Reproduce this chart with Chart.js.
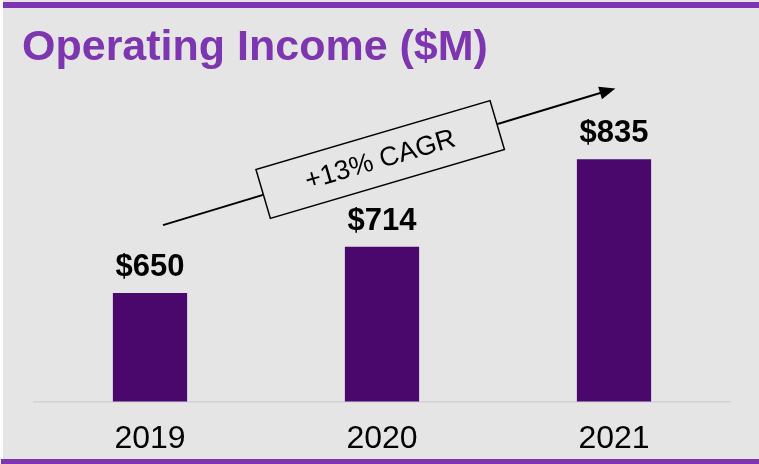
<!DOCTYPE html>
<html>
<head>
<meta charset="utf-8">
<script src="https://cdn.jsdelivr.net/npm/chart.js@4.4.1/dist/chart.umd.min.js"></script>
<style>
  html, body { margin: 0; padding: 0; background: #ffffff; }
  #wrap { width: 759px; height: 464px; position: relative; }
</style>
</head>
<body>
<div id="wrap"><canvas id="chart" width="759" height="464"></canvas></div>
<script>
// Chart data
const years = ['2019', '2020', '2021'];
const income = [650, 714, 835];
const valueLabels = ['$650', '$714', '$835'];
const titleText = 'Operating Income ($M)';
const cagrText = '+13% CAGR';

const purple = '#7d35b0';
const barColor = '#4a086c';
const bgGray = '#e5e5e5';
const fontFamily = '"Liberation Sans", Arial, sans-serif';

// frame: grey panel, purple rules top and bottom, title
const framePlugin = {
    id: 'frame',
    beforeDraw(chart) {
        const ctx = chart.ctx;
        ctx.save();
        ctx.fillStyle = bgGray;
        ctx.fillRect(3, 0, chart.width - 3, chart.height);
        ctx.fillStyle = purple;
        ctx.fillRect(3, 2, chart.width - 3, 6);
        ctx.fillRect(1, 459, chart.width - 1, 5);
        ctx.font = 'bold 43px ' + fontFamily;
        ctx.textAlign = 'left';
        ctx.textBaseline = 'alphabetic';
        ctx.fillText(titleText, 22, 60);
        ctx.restore();
    }
};

// bold value labels above each bar
const valueLabelPlugin = {
    id: 'valueLabels',
    afterDatasetsDraw(chart) {
        const ctx = chart.ctx;
        const meta = chart.getDatasetMeta(0);
        ctx.save();
        ctx.font = 'bold 31px ' + fontFamily;
        ctx.fillStyle = '#000000';
        ctx.textAlign = 'center';
        ctx.textBaseline = 'alphabetic';
        meta.data.forEach((bar, i) => {
            ctx.fillText(valueLabels[i], bar.x, bar.y - 17);
        });
        ctx.restore();
    }
};

// growth arrow with the rotated CAGR box, anchored to the scales
const cagrPlugin = {
    id: 'cagr',
    afterDraw(chart) {
        const xs = chart.scales.x;
        const ys = chart.scales.y;
        const x1 = xs.getPixelForValue(0.056), y1 = ys.getPixelForValue(744);
        const x2 = xs.getPixelForValue(2.006), y2 = ys.getPixelForValue(933);
        const ang = Math.atan2(y2 - y1, x2 - x1);
        const ctx = chart.ctx;
        ctx.save();
        ctx.strokeStyle = '#000000';
        ctx.fillStyle = '#000000';
        ctx.lineWidth = 2;
        const hl = 15;
        ctx.beginPath();
        ctx.moveTo(x1, y1);
        ctx.lineTo(x2 - hl * Math.cos(ang), y2 - hl * Math.sin(ang));
        ctx.stroke();
        ctx.translate(x2, y2);
        ctx.rotate(ang);
        ctx.beginPath();
        ctx.moveTo(0, 0);
        ctx.lineTo(-hl - 1, -6.5);
        ctx.lineTo(-hl - 1, 6.5);
        ctx.closePath();
        ctx.fill();
        ctx.restore();

        // box sitting on the arrow
        const cx = (x1 + x2) / 2 - 9;
        const cy = y1 + (cx - x1) * Math.tan(ang);
        ctx.save();
        ctx.translate(cx, cy);
        ctx.rotate(-16.4 * Math.PI / 180);
        ctx.fillStyle = bgGray;
        ctx.fillRect(-122, -25.5, 244, 51);
        ctx.strokeStyle = '#000000';
        ctx.lineWidth = 1.5;
        ctx.strokeRect(-122, -25.5, 244, 51);
        ctx.fillStyle = '#000000';
        ctx.font = '27px ' + fontFamily;
        ctx.textAlign = 'center';
        ctx.textBaseline = 'middle';
        ctx.fillText(cagrText, 0, 1);
        ctx.restore();
    }
};

new Chart(document.getElementById('chart'), {
    type: 'bar',
    data: {
        labels: years,
        datasets: [{
            data: income,
            backgroundColor: barColor,
            borderWidth: 0,
            categoryPercentage: 1,
            barPercentage: 0.32
        }]
    },
    options: {
        responsive: false,
        animation: false,
        layout: {
            padding: { left: 34, right: 29, top: 40, bottom: -4 }
        },
        plugins: {
            legend: { display: false },
            tooltip: { enabled: false },
            title: { display: false }
        },
        scales: {
            x: {
                grid: { display: false },
                border: { display: true, color: '#d2d2d2', width: 1.5 },
                ticks: {
                    color: '#000000',
                    font: { family: fontFamily, size: 32 },
                    padding: 10
                }
            },
            y: {
                display: false,
                min: 500,
                max: 1000
            }
        }
    },
    plugins: [framePlugin, valueLabelPlugin, cagrPlugin]
});
</script>
</body>
</html>
